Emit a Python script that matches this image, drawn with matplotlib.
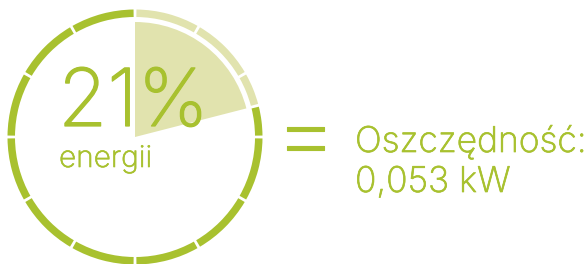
import matplotlib
matplotlib.use("Agg")
import matplotlib.pyplot as plt
from matplotlib.patches import Wedge
import matplotlib.patheffects as pe

# data
percent = 21
n_segments = 12
big_label = "21%"
sub_label = "energii"
result_lines = ["Oszczędność:", "0,053 kW"]

green = "#a8c12f"
light = "#e1e3ae"

fig = plt.figure(figsize=(5.85, 2.64), dpi=100)
ax = fig.add_axes([0, 0, 1, 1])
ax.set_xlim(0, 585)
ax.set_ylim(0, 264)
ax.set_aspect("equal")
ax.axis("off")

cx, cy = 135, 127
r_out, ring_w = 127.5, 7.5
r_wedge = 115
gap = 1.3

# filled share, clockwise from 12 o'clock
share = percent / 100 * 360
ax.add_patch(Wedge((cx, cy), r_wedge, 90 - share, 90, color=light, lw=0))

# segmented ring
step = 360 / n_segments
for i in range(n_segments):
    a0 = i * step + gap / 2
    a1 = (i + 1) * step - gap / 2
    if a1 <= share:
        parts = [(a0, a1, light)]
    elif a0 >= share:
        parts = [(a0, a1, green)]
    else:
        parts = [(a0, share - gap / 2, light), (share + gap / 2, a1, green)]
    for s, e, c in parts:
        ax.add_patch(Wedge((cx, cy), r_out, 90 - e, 90 - s, width=ring_w, color=c, lw=0))

font = "Inter"


def bold_a_bit(w):
    return [pe.withStroke(linewidth=w, foreground=green)]


ax.text(58, 264 - 126, big_label, fontsize=57.5, color=green, family=font,
        fontweight="light", ha="left", va="baseline", path_effects=bold_a_bit(0.9))
ax.text(59, 264 - 167, sub_label, fontsize=21.5, color=green, family=font,
        fontweight="light", ha="left", va="baseline", path_effects=bold_a_bit(0.45))
ax.text(305.5, 264 - 140.5, "=", fontsize=70, color=green, family=font,
        fontweight="light", ha="center", va="center", path_effects=bold_a_bit(0.8))
ax.text(355, 264 - 152, result_lines[0], fontsize=25.5, color=green, family=font,
        fontweight="light", ha="left", va="baseline", path_effects=bold_a_bit(0.5))
ax.text(355, 264 - 192, result_lines[1], fontsize=25.5, color=green, family=font,
        fontweight="light", ha="left", va="baseline", path_effects=bold_a_bit(0.5))

fig.savefig("out.png", dpi=100)
